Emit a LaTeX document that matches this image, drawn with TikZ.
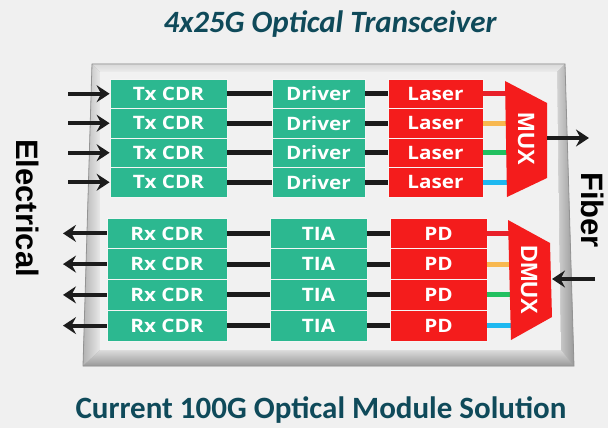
\documentclass[tikz,border=0pt]{standalone}
\usepackage{fontspec}
\setmainfont{Carlito}
\newfontfamily\boxfont{Open Sans}
\newfontfamily\arialfont{Liberation Sans}
\usetikzlibrary{arrows.meta}
\definecolor{pagebg}{HTML}{F0F0F0}
\definecolor{boxgreen}{HTML}{2CB890}
\definecolor{boxred}{HTML}{F41C1C}
\definecolor{titlec}{HTML}{0F4A5A}
\definecolor{linek}{HTML}{1C1C1C}
\definecolor{wred}{HTML}{E8202A}
\definecolor{worange}{HTML}{F8B850}
\definecolor{wgreen}{HTML}{22C060}
\definecolor{wcyan}{HTML}{1EB8F0}
\newcommand{\sx}[1]{\scalebox{1.12}[1]{#1}}
\tikzset{
  blk/.style={rectangle, draw=white!92!gray, line width=0.8pt, inner sep=0pt, text=white,
    font=\boxfont\bfseries\fontsize{18.5}{20}\selectfont},
  gtx/.style={blk, fill=boxgreen, minimum height=29.5pt},
  rtx/.style={blk, fill=boxred, minimum height=29.5pt},
  grx/.style={blk, fill=boxgreen, minimum height=30.75pt},
  rrx/.style={blk, fill=boxred, minimum height=30.75pt},
  wire/.style={line width=5pt, draw=linek},
  cwire/.style={line width=5pt},
  arr/.style={line width=4pt, draw=linek, -{Stealth[length=13pt,width=17pt,inset=4.5pt]}},
  muxbox/.style={fill=boxred, draw=none},
  muxtext/.style={rotate=-90, text=white, font=\arialfont\bfseries\fontsize{23.5}{24}\selectfont},
  sidetext/.style={rotate=-90, text=black, font=\arialfont\bfseries\fontsize{31}{31}\selectfont},
  titletext/.style={text=titlec, font=\bfseries\fontsize{31}{32}\selectfont, anchor=base}
}
\begin{document}
\begin{tikzpicture}[x=1pt,y=-1pt]
\fill[pagebg] (0,0) rectangle (608,428);
\useasboundingbox (0,0) rectangle (608,428);
% titles
\node[titletext, font=\bfseries\itshape\fontsize{31}{32}\selectfont] (title) at (330,33) {4x25G Optical Transceiver};
\node[titletext] (subtitle) at (321,418) {Current 100G Optical Module Solution};
% module box with bevel
\fill[gray!75] (92,64) -- (565,64) -- (574,366) -- (83,366) -- cycle;
\shade[top color=gray!30, bottom color=gray!15] (92,64) -- (565,64) -- (557,72) -- (100,72) -- cycle;
\shade[left color=gray!60, right color=gray!18] (92,64) -- (100,72) -- (100,350) -- (83,366) -- cycle;
\shade[left color=gray!35, right color=gray!80] (565,64) -- (574,366) -- (561,350) -- (557,72) -- cycle;
\shade[top color=gray!28, bottom color=gray!80] (83,366) -- (100,350) -- (561,350) -- (574,366) -- cycle;
\fill[gray!11] (100,72) -- (557,72) -- (561,350) -- (100,350) -- cycle;
\draw[gray!85, line width=0.8pt] (92,64) -- (565,64) -- (574,366) -- (83,366) -- cycle;
% side labels
\node[sidetext] (elec) at (28,208) {Electrical};
\node[sidetext] (fiber) at (593,210) {Fiber};
% Tx blocks
\foreach \i/\y in {1/93.75,2/123.25,3/152.75,4/182.25}{
  \node[gtx, minimum width=117pt] (tx\i) at (168.5,\y) {\sx{Tx CDR}};
  \node[gtx, minimum width=93pt] (drv\i) at (318.5,\y) {\sx{Driver}};
  \node[rtx, minimum width=95pt] (las\i) at (435.5,\y) {\sx{Laser}};
  \coordinate (in\i) at (68,\y);
  \coordinate (m\i) at (507,\y);
  \draw[arr] (in\i) -- (tx\i.west);
  \draw[wire] (tx\i.east) -- (drv\i.west);
  \draw[wire] (drv\i.east) -- (las\i.west);
}
% Rx blocks
\foreach \i/\y in {1/233.4,2/264.1,3/294.9,4/325.6}{
  \node[grx, minimum width=120pt] (rx\i) at (167,\y) {\sx{Rx CDR}};
  \node[grx, minimum width=97pt] (tia\i) at (318.5,\y) {\sx{TIA}};
  \node[rrx, minimum width=97pt] (pd\i) at (438.5,\y) {\sx{PD}};
  \coordinate (out\i) at (63,\y);
  \coordinate (d\i) at (511,\y);
  \draw[arr] (rx\i.west) -- (out\i);
  \draw[wire] (rx\i.east) -- (tia\i.west);
  \draw[wire] (tia\i.east) -- (pd\i.west);
}
% colored wavelength lines
\draw[cwire, wred] (las1.east) -- (m1);
\draw[cwire, worange] (las2.east) -- (m2);
\draw[cwire, wgreen] (las3.east) -- (m3);
\draw[cwire, wcyan] (las4.east) -- (m4);
\draw[cwire, wred] (pd1.east) -- (d1);
\draw[cwire, worange] (pd2.east) -- (d2);
\draw[cwire, wgreen] (pd3.east) -- (d3);
\draw[cwire, wcyan] (pd4.east) -- (d4);
% MUX and DMUX
\fill[muxbox] (505,81) -- (547,103) -- (547,178) -- (507,197) -- cycle;
\node[muxtext] (mux) at (526,139) {MUX};
\fill[muxbox] (508,220) -- (550,243) -- (552,317) -- (511,340) -- cycle;
\node[muxtext] (dmux) at (529,280) {DMUX};
\coordinate (muxout) at (547,138);
\coordinate (fibout) at (589,138);
\coordinate (fibin) at (595,279);
\coordinate (dmuxin) at (552,279);
\draw[arr] (muxout) -- (fibout);
\draw[arr] (fibin) -- (dmuxin);
\end{tikzpicture}
\end{document}
